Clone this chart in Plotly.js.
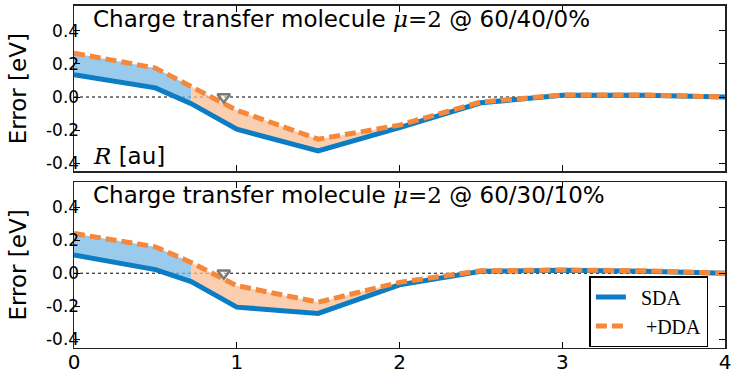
<!DOCTYPE html>
<html>
<head>
<meta charset="utf-8">
<script src="https://cdn.plot.ly/plotly-3.0.1.min.js"></script>
<style>body{margin:0;padding:0;background:#fff}</style>
</head>
<body>
<div id="chart" style="width:747px;height:374px"></div>
<script>
// R [au] sample points (0.72 is where the shading changes colour)
var R = [0, 0.5, 0.72, 1, 1.5, 2, 2.5, 3, 3.5, 4];
var splitIdx = 2;

// 60/40/0%
var sdaTop = [0.135, 0.055, -0.04, -0.195, -0.325, -0.185, -0.035, 0.01, 0.01, 0.0];
var ddaTop = [0.265, 0.175, 0.063, -0.08, -0.255, -0.17, -0.03, 0.012, 0.012, 0.0];
// 60/30/10%
var sdaBot = [0.11, 0.022, -0.05, -0.205, -0.243, -0.07, 0.012, 0.018, 0.012, 0.0];
var ddaBot = [0.24, 0.16, 0.065, -0.075, -0.175, -0.055, 0.015, 0.02, 0.015, 0.0];

var markerX = [0.92];
var markerY = [0.0];

var titles = ['60/40/0%', '60/30/10%'];
var seriesNames = ['\u00a0\u00a0SDA', '\u00a0\u00a0\u00a0+DDA'];
var yTicks = [-0.4, -0.2, 0.0, 0.2, 0.4];
var yTickText = ['-0.4', '-0.2', '0.0', '0.2', '0.4'];
var xTicks = [0, 1, 2, 3, 4];

var blue = '#0c7cc4';
var orange = '#f5883a';

function panelTraces(sda, dda, xa, ya) {
    var out = [];
    var segs = [[0, splitIdx + 1, 'rgba(120,185,230,0.75)'], [splitIdx, R.length, 'rgba(251,190,150,0.75)']];
    segs.forEach(function (s) {
        out.push({x: R.slice(s[0], s[1]), y: sda.slice(s[0], s[1]), xaxis: xa, yaxis: ya,
            mode: 'lines', line: {width: 0}, showlegend: false, hoverinfo: 'skip'});
        out.push({x: R.slice(s[0], s[1]), y: dda.slice(s[0], s[1]), xaxis: xa, yaxis: ya,
            mode: 'lines', line: {width: 0}, fill: 'tonexty', fillcolor: s[2], showlegend: false, hoverinfo: 'skip'});
    });
    out.push({x: R, y: sda, xaxis: xa, yaxis: ya, mode: 'lines', name: seriesNames[0],
        line: {color: blue, width: 5}, showlegend: xa == 'x2'});
    out.push({x: R, y: dda, xaxis: xa, yaxis: ya, mode: 'lines', name: seriesNames[1],
        line: {color: orange, width: 5, dash: '11px,5px'}, showlegend: xa == 'x2'});
    out.push({x: markerX, y: markerY, xaxis: xa, yaxis: ya, mode: 'markers', showlegend: false,
        marker: {symbol: 'triangle-down', size: 11, color: 'rgba(250,240,220,0.6)',
            line: {color: '#7a7a7a', width: 2.5}}});
    return out;
}

var data = panelTraces(sdaTop, ddaTop, 'x', 'y').concat(panelTraces(sdaBot, ddaBot, 'x2', 'y2'));

var yax = {
    range: [-0.45, 0.55], tickvals: yTicks, ticktext: yTickText,
    ticks: 'inside', ticklen: 6, tickcolor: '#000', showline: true, linecolor: '#222', linewidth: 1.5,
    mirror: 'allticks', showgrid: false, zeroline: false, ticklabelstandoff: -10,
    tickfont: {family: 'DejaVu Sans', size: 17, color: '#000'},
    title: {text: 'Error [eV]', font: {family: 'DejaVu Sans', size: 23, color: '#000'}, standoff: 13}
};
var xax = {
    range: [0, 4], tickvals: xTicks, ticks: 'inside', ticklen: 6, tickcolor: '#000',
    showline: true, linecolor: '#222', linewidth: 1.5, mirror: 'allticks', showgrid: false, zeroline: false,
    tickfont: {family: 'DejaVu Sans', size: 20, color: '#000'}, ticklabelstandoff: -4
};

var dom = [0.0991, 0.9706];
var layout = {
    width: 747, height: 374,
    margin: {l: 0, r: 0, t: 0, b: 0},
    paper_bgcolor: '#fff', plot_bgcolor: '#fff',
    xaxis: Object.assign({}, xax, {domain: dom, anchor: 'y', showticklabels: false}),
    yaxis: Object.assign({}, yax, {domain: [0.5415, 0.9840], anchor: 'x'}),
    xaxis2: Object.assign({}, xax, {domain: dom, anchor: 'y2'}),
    yaxis2: Object.assign({}, yax, {domain: [0.0705, 0.5125], anchor: 'x2'}),
    showlegend: true,
    legend: {x: 0.789, y: 0.262, xanchor: 'left', yanchor: 'top', bgcolor: '#fff',
        bordercolor: '#000', borderwidth: 1.5, traceorder: 'normal', tracegroupgap: 0,
        itemwidth: 30,
        font: {family: 'Liberation Serif', size: 20, color: '#000'}},
    shapes: [
        {type: 'line', xref: 'x domain', yref: 'y', x0: 0, x1: 1, y0: 0, y1: 0,
            line: {color: '#000', width: 1, dash: 'dot'}, layer: 'below'},
        {type: 'line', xref: 'x2 domain', yref: 'y2', x0: 0, x1: 1, y0: 0, y1: 0,
            line: {color: '#000', width: 1, dash: 'dot'}, layer: 'below'}
    ],
    annotations: [
        {xref: 'x domain', yref: 'y domain', x: 0.026, y: 1.015, xanchor: 'left', yanchor: 'top', showarrow: false,
            text: 'Charge transfer molecule <span style="font-family:DejaVu Serif"><i>μ</i>=2</span> @ ' + titles[0],
            font: {family: 'DejaVu Sans', size: 23, color: '#000'}},
        {xref: 'x2 domain', yref: 'y2 domain', x: 0.026, y: 1.015, xanchor: 'left', yanchor: 'top', showarrow: false,
            text: 'Charge transfer molecule <span style="font-family:DejaVu Serif"><i>μ</i>=2</span> @ ' + titles[1],
            font: {family: 'DejaVu Sans', size: 23, color: '#000'}},
        {xref: 'x domain', yref: 'y domain', x: 0.026, y: 0.0, xanchor: 'left', yanchor: 'bottom', showarrow: false,
            text: '<span style="font-family:DejaVu Serif"><i>R</i></span> [au]',
            font: {family: 'DejaVu Sans', size: 23, color: '#000'}}
    ]
};

Plotly.newPlot('chart', data, layout, {staticPlot: true});
</script>
</body>
</html>
